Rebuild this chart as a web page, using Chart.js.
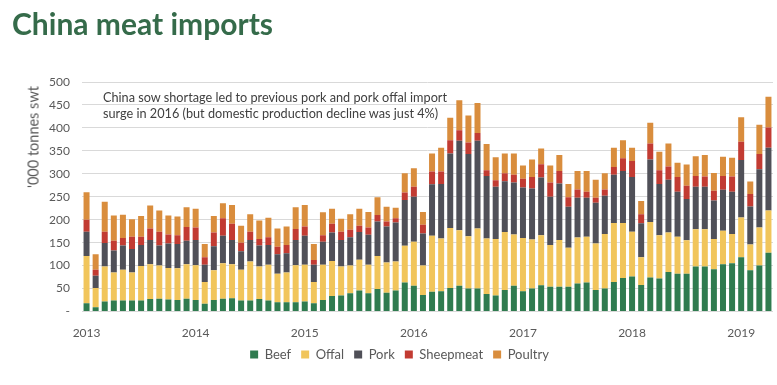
<!DOCTYPE html>
<html>
<head>
<meta charset="utf-8">
<script src="https://cdn.jsdelivr.net/npm/chart.js@4.4.0/dist/chart.umd.min.js"></script>
<style>
  html, body { margin: 0; padding: 0; background: #fff; }
  #wrap { position: relative; width: 777px; height: 385px; overflow: hidden; font-family: Lato, 'Open Sans', sans-serif; }
  #title { position: absolute; left: 12px; top: 5px; margin: 0; font-size: 30px; font-weight: 700; color: #356b4a; }
  #note { position: absolute; left: 103px; top: 89px; font-size: 12.7px; line-height: 16px; color: #404040; }
  #ytitle { position: absolute; left: 33px; top: 137px; font-size: 14.5px; color: #595959; white-space: nowrap;
            transform: translate(-50%, -50%) rotate(-90deg); }
  canvas { position: absolute; left: 0; top: 0; }
</style>
</head>
<body>
<div id="wrap">
  <canvas id="chart" width="777" height="385"></canvas>
  <h1 id="title">China meat imports</h1>
  <div id="note">China sow shortage led to previous pork and pork offal import<br>surge in 2016 (but domestic production decline was just 4%)</div>
  <div id="ytitle">'000 tonnes swt</div>
</div>
<script>
  const years = ['2013', '2014', '2015', '2016', '2017', '2018', '2019'];
  const monthNames = ['Jan','Feb','Mar','Apr','May','Jun','Jul','Aug','Sep','Oct','Nov','Dec'];
  const monthCount = 76; // Jan 2013 .. Apr 2019

  const categories = [];
  for (let i = 0; i < monthCount; i++) {
    categories.push(monthNames[i % 12] + ' ' + years[Math.floor(i / 12)]);
  }

  // '000 tonnes, monthly
  const beef = [
    18, 9, 22, 24, 24, 24, 24, 27, 28, 26, 25, 28,
    25, 17, 25, 28, 29, 24, 24, 27, 24, 20, 20, 20,
    22, 18, 25, 34, 35, 40, 46, 40, 49, 41, 46, 63,
    56, 36, 43, 44, 51, 56, 50, 50, 38, 35, 47, 56,
    44, 50, 57, 54, 54, 54, 61, 63, 47, 50, 64, 73,
    76, 58, 74, 72, 86, 82, 82, 98, 98, 92, 103, 105,
    118, 90, 100, 128
  ];
  const offal = [
    103, 42, 76, 61, 67, 61, 75, 76, 72, 69, 69, 75,
    76, 47, 65, 77, 74, 67, 85, 71, 78, 62, 65, 81,
    80, 46, 77, 76, 63, 60, 67, 62, 72, 66, 63, 80,
    96, 64, 122, 115, 131, 121, 114, 131, 121, 123, 126, 112,
    116, 107, 109, 91, 102, 85, 100, 100, 101, 119, 129, 120,
    98, 60, 121, 94, 86, 81, 73, 81, 81, 66, 73, 64,
    87, 56, 83, 92
  ];
  const pork = [
    53, 27, 51, 48, 53, 51, 46, 53, 44, 53, 53, 51,
    55, 38, 52, 60, 53, 40, 47, 46, 43, 43, 42, 55,
    63, 38, 50, 62, 58, 62, 60, 65, 75, 78, 85, 100,
    98, 70, 112, 119, 162, 195, 179, 191, 136, 114, 111, 113,
    110, 111, 126, 105, 123, 89, 87, 85, 89, 83, 105, 113,
    119, 74, 136, 112, 115, 98, 90, 93, 93, 84, 89, 92,
    125, 83, 127, 137
  ];
  const sheepmeat = [
    26, 13, 25, 21, 16, 27, 18, 25, 30, 20, 19, 30,
    27, 16, 30, 38, 35, 19, 18, 14, 17, 16, 18, 24,
    20, 10, 14, 19, 18, 16, 14, 16, 14, 11, 9, 16,
    22, 19, 28, 27, 29, 23, 25, 17, 13, 14, 17, 17,
    19, 25, 29, 31, 27, 21, 18, 13, 11, 14, 17, 28,
    35, 20, 35, 30, 29, 32, 29, 23, 22, 21, 30, 33,
    40, 27, 33, 44
  ];
  const poultry = [
    60, 34, 65, 55, 51, 38, 45, 50, 46, 41, 41, 43,
    41, 29, 36, 33, 41, 37, 38, 40, 42, 40, 40, 47,
    47, 35, 50, 33, 28, 34, 37, 34, 39, 32, 23, 42,
    40, 28, 39, 52, 49, 65, 59, 65, 57, 50, 43, 46,
    29, 38, 34, 37, 35, 29, 40, 45, 39, 35, 42, 39,
    29, 29, 45, 40, 50, 31, 46, 43, 47, 39, 42, 41,
    53, 27, 64, 67
  ];

  const font = { family: 'Lato', size: 12 };
  const tickColor = '#595959';

  function series(label, data, color) {
    return { label, data, backgroundColor: color, borderWidth: 0, barPercentage: 0.66, categoryPercentage: 1 };
  }

  new Chart(document.getElementById('chart'), {
    type: 'bar',
    data: {
      labels: categories,
      datasets: [
        series('Beef', beef, '#2f7b4f'),
        series('Offal', offal, '#f1c55b'),
        series('Pork', pork, '#505058'),
        series('Sheepmeat', sheepmeat, '#c23b32'),
        series('Poultry', poultry, '#d98d3d')
      ]
    },
    options: {
      responsive: false,
      animation: false,
      // left padding only nudges the legend to the right; the axis keeps its 82px edge
      layout: { padding: { left: 26, right: 4, top: 82, bottom: 14 } },
      plugins: {
        tooltip: { enabled: false },
        legend: {
          position: 'bottom',
          labels: { boxWidth: 8, boxHeight: 8, padding: 10, color: tickColor, font: { family: 'Lato', size: 13 } }
        }
      },
      scales: {
        x: {
          stacked: true,
          afterFit: s => { s.height = 26.5; },
          grid: { display: false },
          border: { display: false },
          ticks: {
            color: tickColor, font, autoSkip: false, maxRotation: 0, padding: 6,
            callback: (v, i) => (i % 12 === 0 ? years[i / 12] : '')
          }
        },
        y: {
          stacked: true,
          min: 0, max: 500,
          afterFit: s => { s.width = 56; },
          grid: { color: '#d9d9d9', drawTicks: false },
          border: { display: false },
          ticks: {
            stepSize: 50, color: tickColor, font, padding: 12,
            callback: v => (v === 0 ? '-' : v)
          }
        }
      }
    }
  });
</script>
</body>
</html>
